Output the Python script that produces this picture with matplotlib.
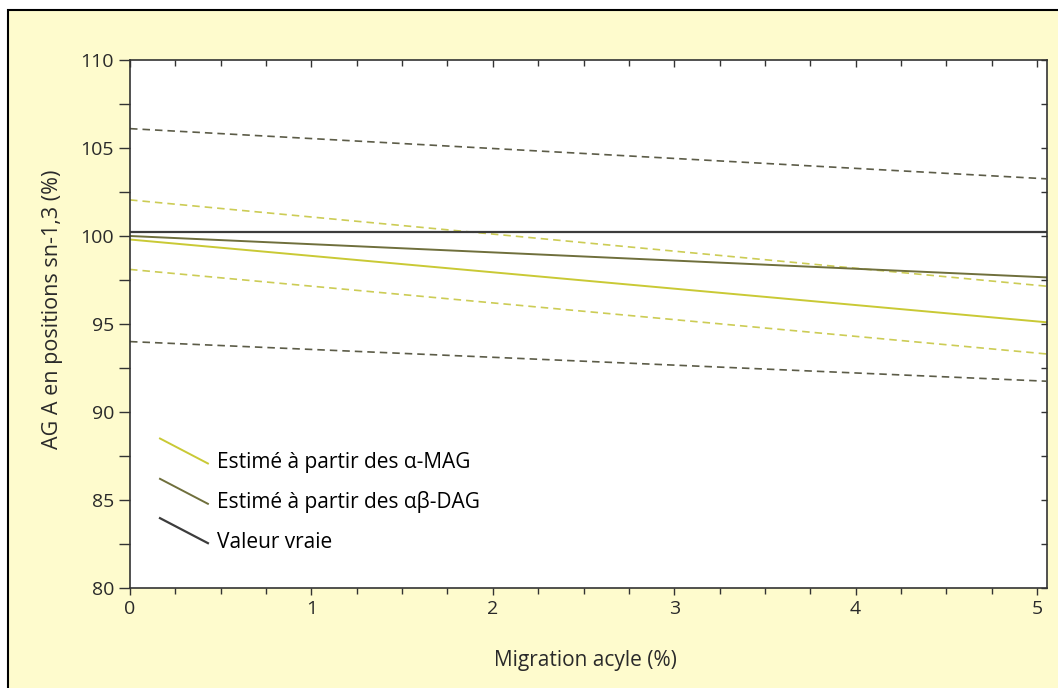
import matplotlib.pyplot as plt
from matplotlib.patches import Rectangle
from matplotlib.legend_handler import HandlerLine2D
from matplotlib.lines import Line2D
from matplotlib.ticker import MultipleLocator

# DATA
migration = [0, 5.05]
vraie = [100.2, 100.2]
mag = [99.8, 95.1]
mag_haut = [102.05, 97.15]
mag_bas = [98.1, 93.3]
dag = [100.0, 97.65]
dag_haut = [106.1, 103.25]
dag_bas = [94.0, 91.75]

labels = ['Estimé à partir des α-MAG', 'Estimé à partir des αβ-DAG', 'Valeur vraie']

# COLORS
c_mag = '#c9c935'
c_mag_dash = '#cccc55'
c_dag = '#6f6f3c'
c_dag_dash = '#5c5c48'
c_vraie = '#3c3c3c'
c_text = '#2a2a2a'

plt.rcParams['font.family'] = ['Open Sans', 'DejaVu Sans']


# diagonal legend glyphs like the original
class DiagHandler(HandlerLine2D):
    def create_artists(self, legend, orig_handle, xdescent, ydescent,
                       width, height, fontsize, trans):
        mid = height / 2
        line = Line2D([0, width], [mid + 16, mid - 2],
                      color=orig_handle.get_color(),
                      linewidth=orig_handle.get_linewidth(),
                      transform=trans)
        return [line]


fig = plt.figure(figsize=(10.58, 6.88), dpi=100)
fig.patch.set_facecolor('white')
fig.patches.append(Rectangle((8 / 1058, -0.05), 1.2, 1 - 10 / 688 + 0.05,
                             transform=fig.transFigure, facecolor='#fefbcd',
                             edgecolor='black', linewidth=1.5, zorder=-10))

ax = fig.add_axes([130 / 1058, 100 / 688, 917 / 1058, 528 / 688])
ax.set_facecolor('white')

ax.plot(migration, dag_haut, color=c_dag_dash, lw=1.2, ls=(0, (4.5, 3)))
ax.plot(migration, dag_bas, color=c_dag_dash, lw=1.2, ls=(0, (4.5, 3)))
ax.plot(migration, mag_haut, color=c_mag_dash, lw=1.2, ls=(0, (4.5, 3)))
ax.plot(migration, mag_bas, color=c_mag_dash, lw=1.2, ls=(0, (4.5, 3)))
l1, = ax.plot(migration, mag, color=c_mag, lw=1.4)
l2, = ax.plot(migration, dag, color=c_dag, lw=1.4)
l3, = ax.plot(migration, vraie, color=c_vraie, lw=1.6)

ax.set_xlim(0, 5.055)
ax.set_ylim(80, 110)

ax.xaxis.set_major_locator(MultipleLocator(1))
ax.xaxis.set_minor_locator(MultipleLocator(0.25))
ax.yaxis.set_major_locator(MultipleLocator(5))
ax.yaxis.set_minor_locator(MultipleLocator(2.5))

ax.tick_params(axis='x', which='both', direction='out', top=True, color='#333333',
               labelsize=14, labelcolor=c_text)
ax.tick_params(axis='x', which='major', length=5, width=1)
ax.tick_params(axis='x', which='minor', length=4, width=1)
ax.tick_params(axis='y', which='both', direction='out', right=True, color='#333333',
               labelsize=14, labelcolor=c_text)
ax.tick_params(axis='y', which='major', length=8, width=1)
ax.tick_params(axis='y', which='minor', length=8, width=1)
# top/right ticks inward
for t in ax.xaxis.get_major_ticks() + ax.xaxis.get_minor_ticks():
    t.tick2line.set_marker(3)
for t in ax.yaxis.get_major_ticks() + ax.yaxis.get_minor_ticks():
    t.tick2line.set_marker(0)
    t.tick2line.set_markersize(4)

for s in ax.spines.values():
    s.set_color('#333333')
    s.set_linewidth(1.2)

ax.set_xlabel('Migration acyle (%)', fontsize=15, color=c_text)
ax.set_ylabel('AG A en positions sn-1,3 (%)', fontsize=15.5, color=c_text)
ax.xaxis.set_label_coords(0.497, -0.118)
ax.yaxis.set_label_coords(-0.073, 0.527)

ax.legend([l1, l2, l3], labels, handler_map={Line2D: DiagHandler()},
          loc='upper left', bbox_to_anchor=(30 / 917, (588 - 452) / 528),
          borderaxespad=0, borderpad=0, frameon=False,
          fontsize=15, handlelength=2.3, handleheight=0.7,
          handletextpad=0.45, labelspacing=0.88)

fig.savefig('out.png', dpi=100, facecolor=fig.get_facecolor())
